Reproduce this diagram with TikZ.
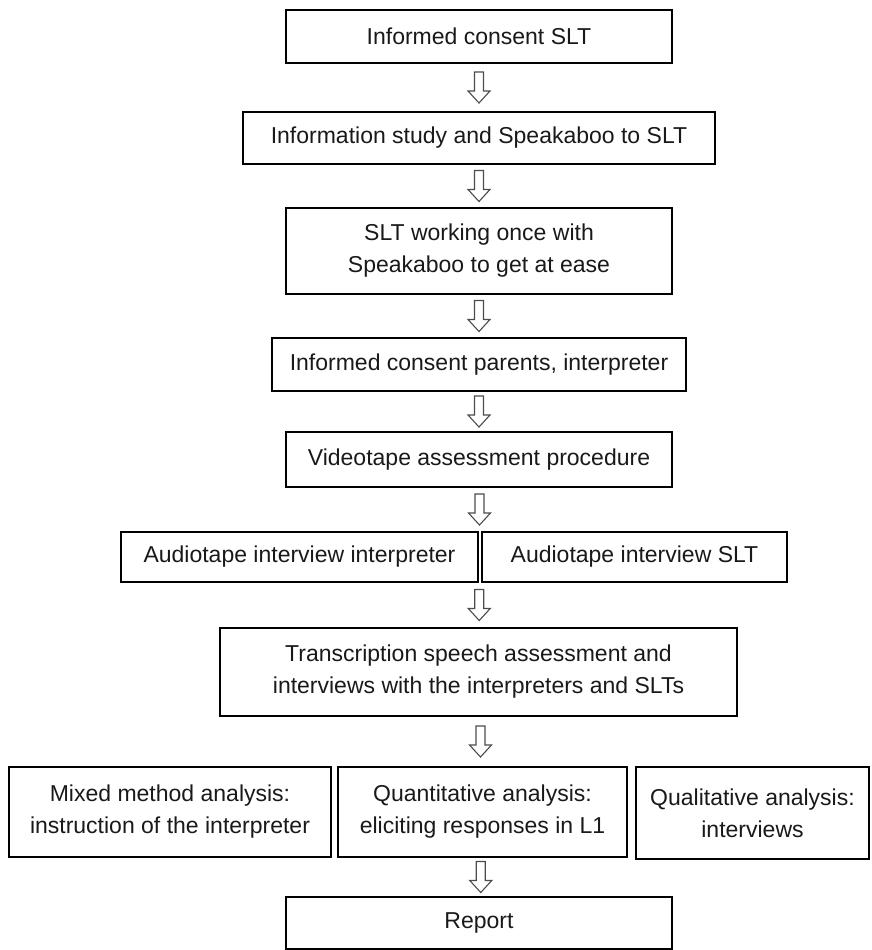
\documentclass[tikz,border=0pt]{standalone}
\usepackage{fontspec}
\setmainfont{Liberation Sans}
\usetikzlibrary{calc}
\tikzset{
  flowbox/.style={draw=black, line width=1.5pt, align=center, inner sep=0pt,
    font=\fontsize{23}{32}\selectfont, text=black!90},
  arrowline/.style={draw=black!70, line width=1.1pt, fill=white, line join=miter},
}
\newcommand\flowarrow[3]{%
  \path (#1) -- coordinate[midway] (#3) (#2);
  \draw[arrowline] ($(#3)+(-4.5,-15.5)$) -- ($(#3)+(-4.5,3.5)$) -- ($(#3)+(-11,3.5)$)
    -- ($(#3)+(0,15.5)$) -- ($(#3)+(11,3.5)$) -- ($(#3)+(4.5,3.5)$)
    -- ($(#3)+(4.5,-15.5)$) -- cycle;}
\begin{document}
\begin{tikzpicture}[x=1pt,y=-1pt]
\useasboundingbox (0,0) rectangle (871,950);
\node[flowbox, minimum width=386pt, minimum height=53pt] (b1) at (479,36.5) {Informed consent SLT};
\node[flowbox, minimum width=472pt, minimum height=52pt] (b2) at (479,138) {Information study and Speakaboo to SLT};
\node[flowbox, minimum width=386pt, minimum height=86pt] (b3) at (479,251) {SLT working once with\\Speakaboo to get at ease};
\node[flowbox, minimum width=414pt, minimum height=53pt] (b4) at (479,364.5) {Informed consent parents, interpreter};
\node[flowbox, minimum width=386pt, minimum height=55pt] (b5) at (479,459.5) {Videotape assessment procedure};
\node[flowbox, minimum width=357pt, minimum height=50pt] (b6a) at (299.5,557) {Audiotape interview interpreter};
\node[flowbox, minimum width=305pt, minimum height=50pt] (b6b) at (634.5,557) {Audiotape interview SLT};
\node[flowbox, minimum width=517pt, minimum height=88pt] (b7) at (478.5,672) {Transcription speech assessment and\\interviews with the interpreters and SLTs};
\node[flowbox, minimum width=322pt, minimum height=90pt] (b8a) at (170,812) {Mixed method analysis:\\instruction of the interpreter};
\node[flowbox, minimum width=289pt, minimum height=90pt] (b8b) at (482.5,812) {Quantitative analysis:\\eliciting responses in L1};
\node[flowbox, minimum width=233pt, minimum height=92pt] (b8c) at (752.5,813) {Qualitative analysis:\\interviews};
\node[flowbox, minimum width=386pt, minimum height=52pt] (b9) at (479,923) {Report};
\coordinate (j1) at ($(b6a.north east)!0.5!(b6b.north west)$);
\coordinate (j2) at ($(b6a.south east)!0.5!(b6b.south west)$);
\flowarrow{b1.south}{b2.north}{m1}
\flowarrow{b2.south}{b3.north}{m2}
\flowarrow{b3.south}{b4.north}{m3}
\flowarrow{b4.south}{b5.north}{m4}
\flowarrow{b5.south}{j1}{m5}
\flowarrow{j2}{b7.north}{m6}
\flowarrow{b7.south}{b8b.north}{m7}
\flowarrow{b8b.south}{b9.north}{m8}
\end{tikzpicture}
\end{document}
